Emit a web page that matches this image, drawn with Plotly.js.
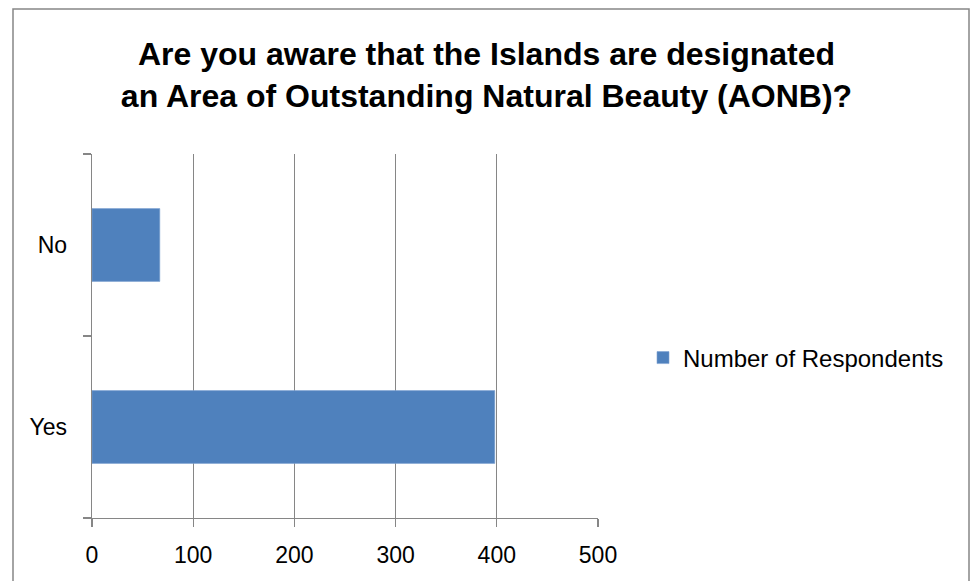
<!DOCTYPE html>
<html>
<head>
<meta charset="utf-8">
<script src="https://cdn.plot.ly/plotly-3.0.1.min.js"></script>
<style>
  html, body { margin: 0; padding: 0; background: #ffffff; }
  #chart { width: 973px; height: 581px; }
</style>
</head>
<body>
<div id="chart"></div>
<script>
const categories = ["Yes", "No"];
const respondents = [398, 67];
const seriesName = "Number of Respondents";
const xTickValues = [0, 100, 200, 300, 400, 500];
const chartTitle = "Are you aware that the Islands are designated<br>an Area of Outstanding Natural Beauty (AONB)?";

const FONT = "Liberation Sans, Arial, sans-serif";
const GRID = "#868686";

const trace = {
  type: "bar",
  orientation: "h",
  y: categories,
  x: respondents,
  name: seriesName,
  width: 0.4,
  marker: { color: "#4F81BD", line: { color: "#7FA3D2", width: 0.6 } },
  showlegend: true,
  hoverinfo: "x+y"
};

const W = 973, H = 581;
const L = 92, R = 598, T = 154, B = 518;
const pw = R - L, ph = B - T;
const px2x = v => (v - L) / pw;
const px2y = v => (B - v) / ph;

const layout = {
  width: W,
  height: H,
  margin: { l: L, r: W - R, t: T, b: H - B, pad: 0 },
  paper_bgcolor: "#ffffff",
  plot_bgcolor: "#ffffff",
  font: { family: FONT, size: 23, color: "#000000" },
  title: {
    text: chartTitle,
    font: { family: FONT, size: 32, color: "#000000", weight: "bold" },
    x: 0.5,
    xref: "container",
    y: 1 - 65 / H,
    yref: "container",
    yanchor: "middle"
  },
  xaxis: {
    range: [0, 500],
    tickvals: xTickValues,
    ticktext: xTickValues.map(String),
    showgrid: true,
    gridcolor: GRID,
    gridwidth: 1.3,
    zeroline: false,
    showline: true,
    linecolor: GRID,
    linewidth: 1.3,
    ticks: "outside",
    ticklen: 8,
    tickwidth: 1.3,
    tickcolor: GRID,
    ticklabelstandoff: 8,
    tickfont: { family: FONT, size: 23, color: "#000000" },
    fixedrange: true
  },
  yaxis: {
    type: "category",
    range: [-0.5, 1.5],
    tickson: "boundaries",
    showgrid: false,
    zeroline: false,
    showline: true,
    linecolor: GRID,
    linewidth: 1.3,
    ticks: "outside",
    ticklen: 8,
    tickwidth: 1.3,
    tickcolor: GRID,
    ticklabelstandoff: 19,
    tickfont: { family: FONT, size: 23, color: "#000000" },
    fixedrange: true
  },
  legend: {
    x: px2x(643),
    xanchor: "left",
    y: px2y(358),
    yanchor: "middle",
    font: { family: FONT, size: 24, color: "#000000" },
    bgcolor: "rgba(0,0,0,0)",
    borderwidth: 0
  },
  shapes: [
    {
      type: "rect",
      xref: "paper", yref: "paper",
      x0: px2x(13), x1: px2x(969),
      y0: px2y(9), y1: px2y(600),
      line: { color: GRID, width: 1.5 },
      fillcolor: "rgba(0,0,0,0)",
      layer: "below"
    }
  ],
  bargap: 0.6
};

Plotly.newPlot("chart", [trace], layout, { displayModeBar: false, staticPlot: true });
</script>
</body>
</html>
